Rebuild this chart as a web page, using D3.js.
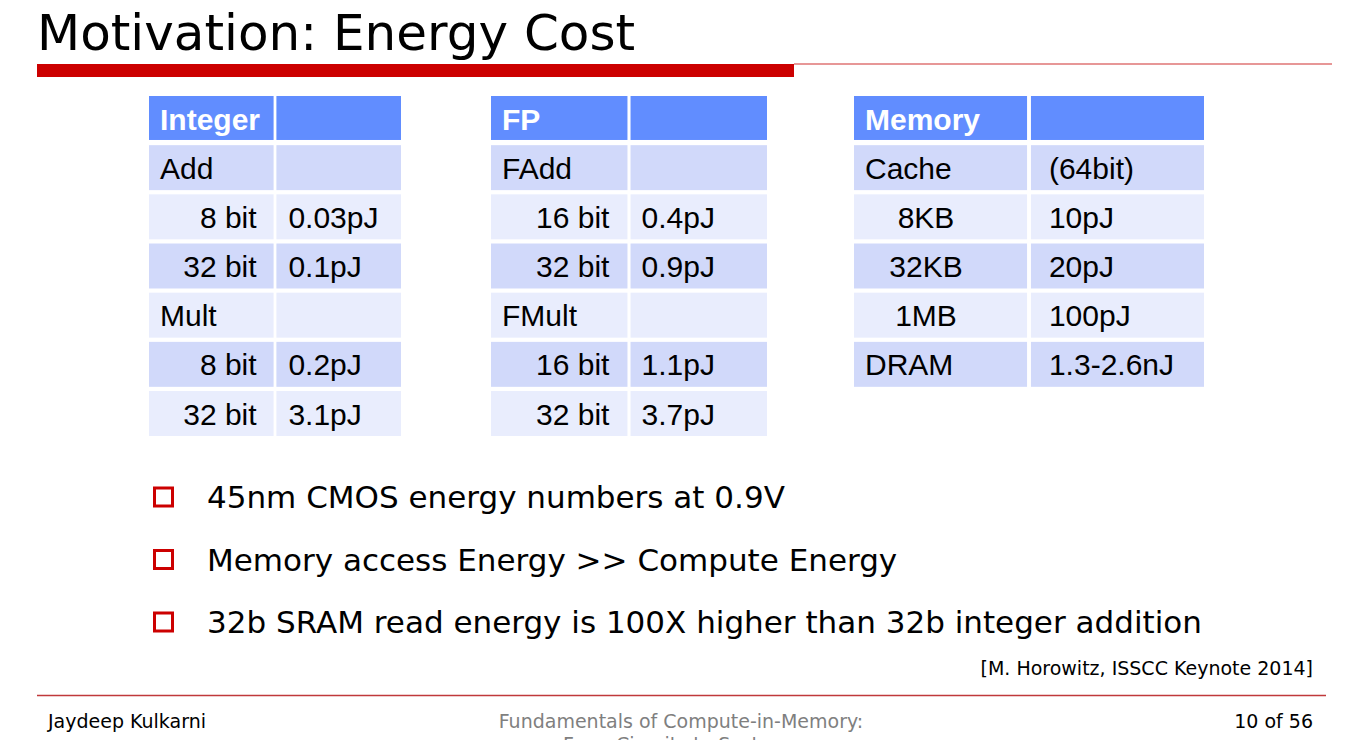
<!DOCTYPE html>
<html>
<head>
<meta charset="utf-8">
<script src="https://cdn.jsdelivr.net/npm/d3@7"></script>
<style>
  html, body { margin: 0; padding: 0; background: #ffffff; overflow: hidden; }
  svg { display: block; }
</style>
</head>
<body>
<svg id="slide"></svg>
<script>
const WIDTH = 1350;
const HEIGHT = 754;

// table contents
const integerLabels = ["Add", "8 bit", "32 bit", "Mult", "8 bit", "32 bit"];
const integerValues = ["", "0.03pJ", "0.1pJ", "", "0.2pJ", "3.1pJ"];
const integerSub = [false, true, true, false, true, true];

const fpLabels = ["FAdd", "16 bit", "32 bit", "FMult", "16 bit", "32 bit"];
const fpValues = ["", "0.4pJ", "0.9pJ", "", "1.1pJ", "3.7pJ"];
const fpSub = [false, true, true, false, true, true];

const memoryLabels = ["Cache", "8KB", "32KB", "1MB", "DRAM"];
const memoryValues = ["(64bit)", "10pJ", "20pJ", "100pJ", "1.3-2.6nJ"];
const memorySub = [false, true, true, true, false];

const bullets = [
    "45nm CMOS energy numbers at 0.9V",
    "Memory access Energy >> Compute Energy",
    "32b SRAM read energy is 100X higher than 32b integer addition"
];

const HEADER_FILL = "#618dff";
const DARK_FILL = "#d1d9fa";
const LIGHT_FILL = "#e9edfd";
const RED = "#cc0000";
const TABLE_FONT = "'Liberation Sans', Arial, sans-serif";
const SLIDE_FONT = "'DejaVu Sans', Verdana, sans-serif";

const svg = d3.select("#slide")
    .attr("width", WIDTH)
    .attr("height", HEIGHT)
    .attr("viewBox", `0 0 ${WIDTH} ${HEIGHT}`);

// title and rule
svg.append("text")
    .attr("x", 37)
    .attr("y", 50)
    .attr("font-family", SLIDE_FONT)
    .attr("font-size", 50)
    .attr("fill", "#000")
    .text("Motivation: Energy Cost");

svg.append("line")
    .attr("x1", 794).attr("x2", 1332)
    .attr("y1", 64).attr("y2", 64)
    .attr("stroke", "#d03030")
    .attr("stroke-width", 1.2);

svg.append("rect")
    .attr("x", 37).attr("y", 64)
    .attr("width", 757).attr("height", 13)
    .attr("fill", RED);

// shared row scale: header + up to 6 rows
const rowScale = d3.scaleBand()
    .domain(d3.range(7))
    .range([96, 437])
    .paddingInner(0.065);

const tables = [
    { title: "Integer", labels: integerLabels, values: integerValues, sub: integerSub, x0: 149, x1: 401, subAlign: "end", subOffset: 17, valueOffset: 12 },
    { title: "FP", labels: fpLabels, values: fpValues, sub: fpSub, x0: 491, x1: 767, subAlign: "end", subOffset: 18, valueOffset: 11 },
    { title: "Memory", labels: memoryLabels, values: memoryValues, sub: memorySub, x0: 854, x1: 1204, subAlign: "middle", subOffset: 72, valueOffset: 18 }
];

tables.forEach((table) => {
    const colScale = d3.scaleBand()
        .domain([0, 1])
        .range([table.x0, table.x1])
        .paddingInner(0.022);

    const g = svg.append("g").attr("class", "energy-table");

    const rows = table.labels.map((label, index) => ({
        label,
        value: table.values[index],
        sub: table.sub[index],
        row: index + 1
    }));

    // header
    [0, 1].forEach((col) => {
        g.append("rect")
            .attr("x", colScale(col))
            .attr("y", rowScale(0))
            .attr("width", colScale.bandwidth())
            .attr("height", rowScale.bandwidth() - 2)
            .attr("fill", HEADER_FILL);
    });

    g.append("text")
        .attr("x", colScale(0) + 11)
        .attr("y", rowScale(0) + rowScale.bandwidth() / 2 + 11)
        .attr("font-family", TABLE_FONT)
        .attr("font-weight", 700)
        .attr("font-size", 30)
        .attr("fill", "#ffffff")
        .text(table.title);

    const rowGroups = g.selectAll("g.row")
        .data(rows)
        .join("g")
        .attr("class", "row")
        .attr("transform", (d) => `translate(0, ${rowScale(d.row)})`);

    [0, 1].forEach((col) => {
        rowGroups.append("rect")
            .attr("x", colScale(col))
            .attr("y", 0)
            .attr("width", colScale.bandwidth())
            .attr("height", rowScale.bandwidth() - 1)
            .attr("fill", (d) => (d.row % 2 === 1 ? DARK_FILL : LIGHT_FILL));
    });

    const textY = (rowScale.bandwidth() - 1) / 2 + 11;

    rowGroups.append("text")
        .attr("x", (d) => {
            if (!d.sub) return colScale(0) + 11;
            return table.subAlign === "end"
                ? colScale(0) + colScale.bandwidth() - table.subOffset
                : colScale(0) + table.subOffset;
        })
        .attr("y", textY)
        .attr("text-anchor", (d) => (d.sub ? table.subAlign : "start"))
        .attr("font-family", TABLE_FONT)
        .attr("font-size", 30)
        .attr("fill", "#000")
        .text((d) => d.label);

    rowGroups.append("text")
        .attr("x", colScale(1) + table.valueOffset)
        .attr("y", textY)
        .attr("font-family", TABLE_FONT)
        .attr("font-size", 30)
        .attr("fill", "#000")
        .text((d) => d.value);
});

// bullets
const bulletScale = d3.scalePoint()
    .domain(d3.range(bullets.length))
    .range([497, 622]);

const bulletGroups = svg.selectAll("g.bullet")
    .data(bullets)
    .join("g")
    .attr("class", "bullet")
    .attr("transform", (d, i) => `translate(0, ${bulletScale(i)})`);

bulletGroups.append("rect")
    .attr("x", 154.5)
    .attr("y", -9)
    .attr("width", 18)
    .attr("height", 18)
    .attr("fill", "none")
    .attr("stroke", RED)
    .attr("stroke-width", 3);

bulletGroups.append("text")
    .attr("x", 207)
    .attr("y", 11)
    .attr("font-family", SLIDE_FONT)
    .attr("font-size", 31)
    .attr("fill", "#000")
    .text((d) => d);

// citation
svg.append("text")
    .attr("x", 1313)
    .attr("y", 675)
    .attr("text-anchor", "end")
    .attr("font-family", SLIDE_FONT)
    .attr("font-size", 19)
    .attr("fill", "#000")
    .text("[M. Horowitz, ISSCC Keynote 2014]");

// footer
svg.append("line")
    .attr("x1", 37).attr("x2", 1326)
    .attr("y1", 695.5).attr("y2", 695.5)
    .attr("stroke", "#c0393b")
    .attr("stroke-width", 1.3);

svg.append("text")
    .attr("x", 48)
    .attr("y", 728)
    .attr("font-family", SLIDE_FONT)
    .attr("font-size", 19)
    .attr("fill", "#000")
    .text("Jaydeep Kulkarni");

// the slide image ends at ~740px, so the subtitle's second line is cropped there
svg.append("clipPath")
    .attr("id", "slide-clip")
    .append("rect")
    .attr("x", 0).attr("y", 0)
    .attr("width", WIDTH).attr("height", 740);

const footerCenter = svg.append("text")
    .attr("x", 681)
    .attr("y", 728)
    .attr("clip-path", "url(#slide-clip)")
    .attr("text-anchor", "middle")
    .attr("font-family", SLIDE_FONT)
    .attr("font-size", 19)
    .attr("fill", "#7f7f7f");

footerCenter.append("tspan")
    .attr("x", 681)
    .text("Fundamentals of Compute-in-Memory:");

footerCenter.append("tspan")
    .attr("x", 681)
    .attr("dy", 23)
    .text("From Circuits to Systems");

svg.append("text")
    .attr("x", 1313)
    .attr("y", 728)
    .attr("text-anchor", "end")
    .attr("font-family", SLIDE_FONT)
    .attr("font-size", 19)
    .attr("fill", "#000")
    .text("10 of 56");
</script>
</body>
</html>
